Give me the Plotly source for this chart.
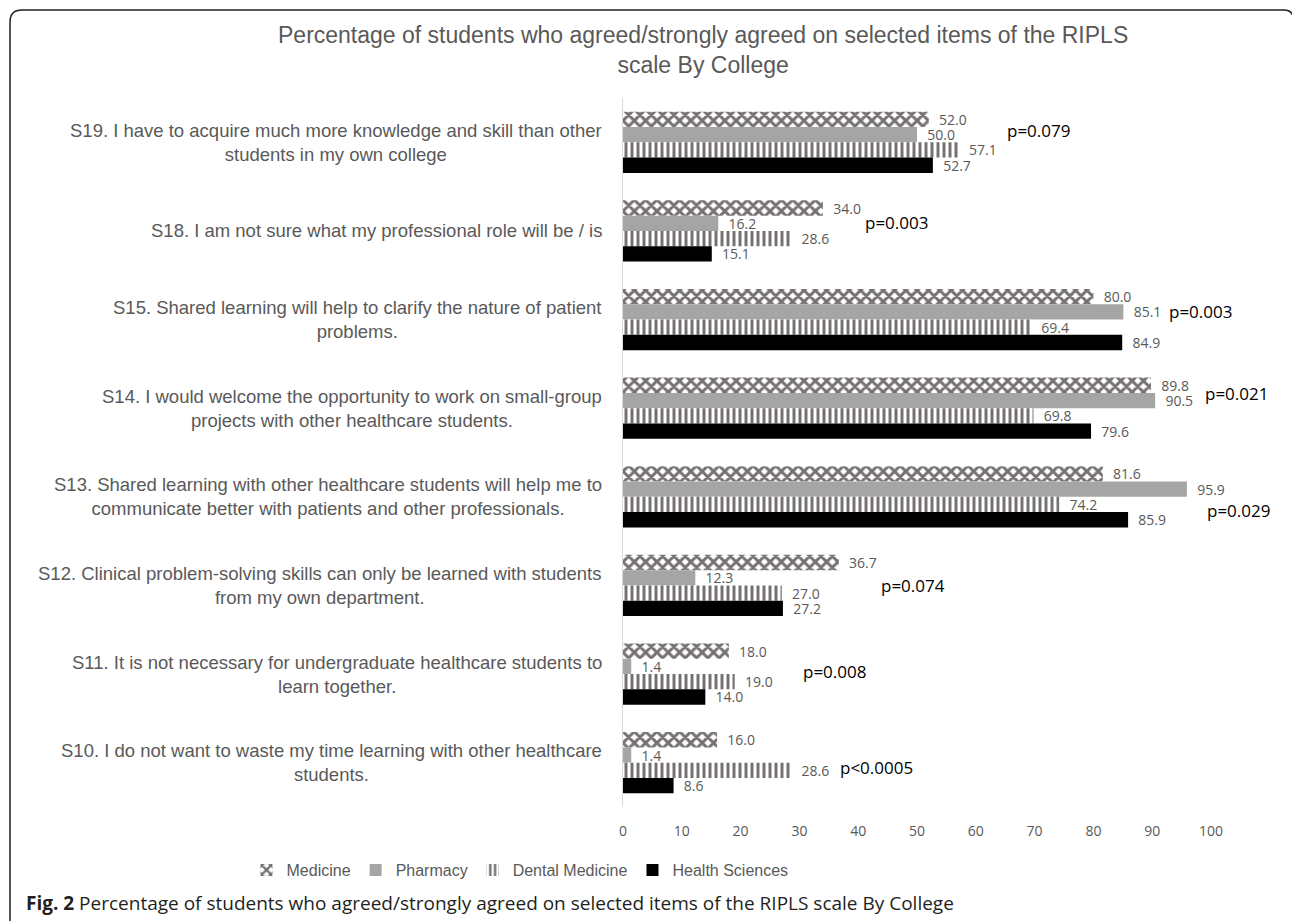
import plotly.graph_objects as go

# ---------------- data ----------------
categories = ["S19", "S18", "S15", "S14", "S13", "S12", "S11", "S10"]
category_labels = [
    "S19. I have to acquire much more knowledge and skill than other<br>students in my own college",
    "S18. I am not sure what my professional role will be / is",
    "S15. Shared learning will help to clarify the nature of patient<br>problems.",
    "S14. I would welcome the opportunity to work on small-group<br>projects with other healthcare students.",
    "S13. Shared learning with other healthcare students will help me to<br>communicate better with patients and other professionals.",
    "S12. Clinical problem-solving skills can only be learned with students<br>from my own department.",
    "S11. It is not necessary for undergraduate healthcare students to<br>learn together.",
    "S10. I do not want to waste my time learning with other healthcare<br>students.",
]
medicine = [52.0, 34.0, 80.0, 89.8, 81.6, 36.7, 18.0, 16.0]
pharmacy = [50.0, 16.2, 85.1, 90.5, 95.9, 12.3, 1.4, 1.4]
dental = [57.1, 28.6, 69.4, 69.8, 74.2, 27.0, 19.0, 28.6]
health_sciences = [52.7, 15.1, 84.9, 79.6, 85.9, 27.2, 14.0, 8.6]
p_values = ["p=0.079", "p=0.003", "p=0.003", "p=0.021", "p=0.029", "p=0.074", "p=0.008", "p<0.0005"]
p_x = [65.0, 40.8, 92.5, 98.6, 99.0, 43.5, 30.3, 36.6]
p_dy = [-12, -8, -8, -15, 14, 0, -3, 5]
x_ticks = [0, 10, 20, 30, 40, 50, 60, 70, 80, 90, 100]
title_text = ("Percentage of students who agreed/strongly agreed on selected items of the RIPLS"
              "<br>scale By College")
caption_bold = "Fig. 2"
caption_text = " Percentage of students who agreed/strongly agreed on selected items of the RIPLS scale By College"

# ---------------- layout geometry (pixels) ----------------
W, H = 1292, 921
L, R, T, B = 623, 1211, 98, 807
PW, PH = R - L, B - T


def px_x(x):
    return (x - L) / PW


def px_y(y):
    return (B - y) / PH


GRAY_PAT = "#767171"
LABEL_GRAY = "#595959"

fig = go.Figure()

series = [
    ("Medicine", medicine, dict(color=GRAY_PAT, pattern=dict(shape="x", fgcolor=GRAY_PAT, bgcolor="white",
                                                            fillmode="replace", size=8, solidity=0.6))),
    ("Pharmacy", pharmacy, dict(color="#A5A5A5")),
    ("Dental Medicine", dental, dict(color=GRAY_PAT, pattern=dict(shape="|", fgcolor=GRAY_PAT, bgcolor="white",
                                                                 fillmode="replace", size=6, solidity=0.5))),
    ("Health Sciences", health_sciences, dict(color="#000000")),
]

for name, vals, marker in series:
    marker = dict(marker)
    marker["line"] = dict(width=0)
    fig.add_trace(go.Bar(
        name=name, y=categories, x=vals, orientation="h", marker=marker,
        texttemplate="\u00a0\u00a0%{x:.1f}", textposition="outside", constraintext="none",
        textfont=dict(family="Open Sans", size=14, color=LABEL_GRAY),
        cliponaxis=False,
    ))

annotations = []
for cat, lab in zip(categories, category_labels):
    annotations.append(dict(
        xref="paper", yref="y", x=0, y=cat, xanchor="right", yanchor="middle",
        xshift=-19, align="center", showarrow=False, text=lab,
        font=dict(family="Liberation Sans, Arial", size=18.5, color=LABEL_GRAY),
    ))
for cat, ptxt, px, dy in zip(categories, p_values, p_x, p_dy):
    annotations.append(dict(
        xref="x", yref="y", x=px, y=cat, xanchor="left", yanchor="middle",
        yshift=-dy, showarrow=False, text=ptxt,
        font=dict(family="Open Sans", size=17, color="#000000"),
    ))
# chart title
annotations.append(dict(
    xref="paper", yref="paper", x=px_x(703), y=px_y(20), xanchor="center", yanchor="top",
    showarrow=False, text=title_text, align="center",
    font=dict(family="Liberation Sans, Arial", size=23, color=LABEL_GRAY),
))
# figure caption
annotations.append(dict(
    xref="paper", yref="paper", x=px_x(24), y=px_y(903), xanchor="left", yanchor="middle",
    showarrow=False, text="<b>" + caption_bold + "</b>" + caption_text,
    font=dict(family="Open Sans", size=19, color="#231F20"),
))

path = (f"M {px_x(10)},{px_y(925)} L {px_x(10)},{px_y(22)} "
        f"Q {px_x(10)},{px_y(10)} {px_x(22)},{px_y(10)} "
        f"L {px_x(1284)},{px_y(10)} Q {px_x(1291)},{px_y(10)} {px_x(1293)},{px_y(16)}")

fig.update_layout(
    width=W, height=H,
    margin=dict(l=L, r=W - R, t=T, b=H - B, pad=0),
    paper_bgcolor="white", plot_bgcolor="white",
    barmode="group", bargap=0.31, bargroupgap=0,
    xaxis=dict(range=[0, 100], tickvals=x_ticks, showgrid=False, zeroline=False, showline=False,
               ticks="", ticklabelstandoff=14,
               tickfont=dict(family="Open Sans", size=14, color=LABEL_GRAY), fixedrange=True),
    yaxis=dict(categoryorder="array", categoryarray=categories, autorange="reversed",
               showticklabels=False, showgrid=False, zeroline=False,
               showline=True, linecolor="#D9D9D9", linewidth=1, ticks=""),
    legend=dict(orientation="h", xref="container", yref="container", x=520 / W, xanchor="center",
                y=1 - 870 / H, yanchor="middle", itemwidth=30,
                font=dict(family="Liberation Sans, Arial", size=16, color=LABEL_GRAY)),
    annotations=annotations,
    shapes=[dict(type="path", xref="paper", yref="paper", path=path,
                 line=dict(color="#231F20", width=1.5))],
    showlegend=True,
)

fig.write_html("out.html")
